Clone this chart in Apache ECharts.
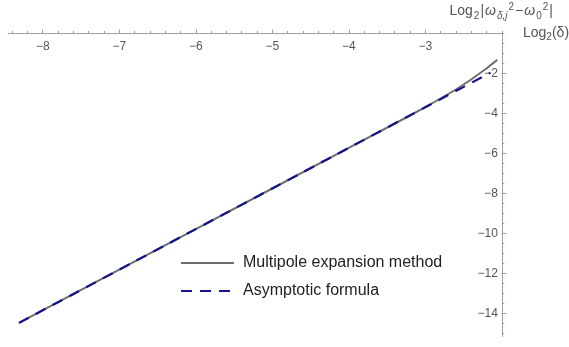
<!DOCTYPE html>
<html>
<head>
<meta charset="utf-8">
<script src="https://cdn.jsdelivr.net/npm/echarts@6/dist/echarts.min.js"></script>
<style>html,body{margin:0;padding:0;background:#fff}#c{width:569px;height:347px}</style>
</head>
<body>
<div id="c"></div>
<script>
// data
const multipoleX = [-8.31, -7.0, -6.0, -5.0, -4.0, -3.2, -3.0, -2.8, -2.6, -2.4, -2.2, -2.06];
const multipoleY = [-14.47, -11.81, -9.78, -7.75, -5.72, -4.10, -3.68, -3.25, -2.80, -2.30, -1.75, -1.32];
const asymptoticX = [-8.31, -7.0, -6.0, -5.0, -4.0, -3.0, -2.15];
const asymptoticY = [-14.47, -11.81, -9.78, -7.75, -5.72, -3.69, -1.96];
const seriesNames = ['Multipole expansion method', 'Asymptotic formula'];
// axis ranges and tick steps
const xRange = [-8.45, -2];
const xMajorRange = [-8, -3];   // labelled ticks every 1
const xMinorRange = [-8.4, -2];  // minor ticks every 0.2
const yRange = [-15.15, 0];
const yMajorRange = [-14, -2];  // labelled ticks every 2
const yMinorRange = [-15, 0];   // minor ticks every 0.5

const FONT = '"Liberation Sans", Arial, sans-serif';
const AXIS_COLOR = '#a0a0a0';
const LABEL_COLOR = '#555';
const minus = v => String(v).replace('-', '\u2212');

// pixel frame of the main plot
const PL = 8.3, PT = 33.5, PW = 493.5, PH = 303;
const xs = PW / (xRange[1] - xRange[0]);
const ys = PH / (yRange[1] - yRange[0]);
function gridForX(r) {
  return { left: PL + (r[0] - xRange[0]) * xs, width: (r[1] - r[0]) * xs, top: PT, height: PH };
}
function gridForY(r) {
  return { left: PL, width: PW, top: PT + (yRange[1] - r[1]) * ys, height: (r[1] - r[0]) * ys };
}
const hiddenX = gi => ({ type: 'value', gridIndex: gi, show: false, min: 1, max: 2, axisLine: { onZero: false } });
const hiddenY = gi => ({ type: 'value', gridIndex: gi, show: false, min: 1, max: 2, axisLine: { onZero: false } });

const chart = echarts.init(document.getElementById('c'), null, { renderer: 'canvas' });
chart.setOption({
  animation: false,
  backgroundColor: '#fff',
  grid: [
    { left: PL, top: PT, width: PW, height: PH },
    gridForX(xMajorRange),
    gridForX(xMinorRange),
    gridForY(yMajorRange),
    gridForY(yMinorRange)
  ],
  xAxis: [
    {
      type: 'value', gridIndex: 0, position: 'top', min: xRange[0], max: xRange[1],
      splitLine: { show: false },
      axisLine: { show: true, onZero: false, lineStyle: { color: AXIS_COLOR, width: 1 } },
      axisTick: { show: false }, axisLabel: { show: false }
    },
    {
      type: 'value', gridIndex: 1, position: 'top', min: xMajorRange[0], max: xMajorRange[1], interval: 1,
      splitLine: { show: false }, axisLine: { show: false, onZero: false },
      axisTick: { show: true, length: 4, lineStyle: { color: AXIS_COLOR } },
      axisLabel: { show: true, inside: true, margin: 7, formatter: minus,
        color: LABEL_COLOR, fontFamily: FONT, fontSize: 12, showMinLabel: true, showMaxLabel: true }
    },
    {
      type: 'value', gridIndex: 2, position: 'top', min: xMinorRange[0], max: xMinorRange[1], interval: 0.2,
      splitLine: { show: false }, axisLine: { show: false, onZero: false },
      axisTick: { show: true, length: 2.5, lineStyle: { color: AXIS_COLOR } },
      axisLabel: { show: false }
    },
    hiddenX(3), hiddenX(4)
  ],
  yAxis: [
    {
      type: 'value', gridIndex: 0, position: 'right', min: yRange[0], max: yRange[1],
      splitLine: { show: false },
      axisLine: { show: true, onZero: false, lineStyle: { color: AXIS_COLOR, width: 1 } },
      axisTick: { show: false }, axisLabel: { show: false }
    },
    hiddenY(1), hiddenY(2),
    {
      type: 'value', gridIndex: 3, position: 'right', min: yMajorRange[0], max: yMajorRange[1], interval: 2,
      splitLine: { show: false }, axisLine: { show: false, onZero: false },
      axisTick: { show: true, length: 4.5, lineStyle: { color: AXIS_COLOR } },
      axisLabel: { show: true, inside: true, margin: 4, formatter: minus,
        color: LABEL_COLOR, fontFamily: FONT, fontSize: 12, showMinLabel: true, showMaxLabel: true }
    },
    {
      type: 'value', gridIndex: 4, position: 'right', min: yMinorRange[0], max: yMinorRange[1], interval: 0.5,
      splitLine: { show: false }, axisLine: { show: false, onZero: false },
      axisTick: { show: true, length: 2.5, lineStyle: { color: AXIS_COLOR } },
      axisLabel: { show: false }
    }
  ],
  legend: {
    orient: 'vertical', left: 180, top: 255, padding: 0, itemWidth: 53, itemHeight: 14, itemGap: 12,
    data: seriesNames,
    itemStyle: { opacity: 0 },
    textStyle: { fontFamily: FONT, fontSize: 16, color: '#222', padding: [0, 0, 0, 4] }
  },
  series: [
    {
      name: seriesNames[0], type: 'line', symbol: 'none', xAxisIndex: 0, yAxisIndex: 0,
      data: multipoleX.map((x, i) => [x, multipoleY[i]]),
      lineStyle: { color: '#6e6e6e', width: 2 }, itemStyle: { color: '#6e6e6e' }
    },
    {
      name: seriesNames[1], type: 'line', symbol: 'none', xAxisIndex: 0, yAxisIndex: 0,
      data: asymptoticX.map((x, i) => [x, asymptoticY[i]]),
      lineStyle: { color: '#14148c', width: 2.2, type: [11, 8] }, itemStyle: { color: '#14148c' }
    }
  ],
  graphic: [
    {
      type: 'text', left: 449, top: 2,
      style: {
        text: '{n|Log}{sub|2}{n||}{i|ω}{isub|δ,j}{sup|2}{n|−}{i|ω}{sub|0}{sup|2}{n||}',
        rich: {
          n: { fontFamily: FONT, fontSize: 14, fill: LABEL_COLOR, lineHeight: 22, padding: [0, 0.5, 0, 0.5] },
          i: { fontFamily: FONT, fontSize: 14, fontStyle: 'italic', fill: LABEL_COLOR, lineHeight: 22, padding: [0, 0.5, 0, 0.5] },
          sub: { fontFamily: FONT, fontSize: 10, fill: LABEL_COLOR, lineHeight: 22, padding: [9, 0.5, 0, 0.5] },
          isub: { fontFamily: FONT, fontSize: 10, fontStyle: 'italic', fill: LABEL_COLOR, lineHeight: 22, padding: [9, 0.5, 0, 0.5] },
          sup: { fontFamily: FONT, fontSize: 10, fill: LABEL_COLOR, lineHeight: 22, padding: [0, 0.5, 9, 0.5] }
        }
      }
    },
    {
      type: 'text', left: 523, top: 24,
      style: {
        text: '{n|Log}{sub|2}{n|(δ)}',
        rich: {
          n: { fontFamily: FONT, fontSize: 14, fill: LABEL_COLOR, lineHeight: 20 },
          sub: { fontFamily: FONT, fontSize: 10, fill: LABEL_COLOR, lineHeight: 20, padding: [8, 0, 0, 0] }
        }
      }
    }
  ]
});
</script>
</body>
</html>
